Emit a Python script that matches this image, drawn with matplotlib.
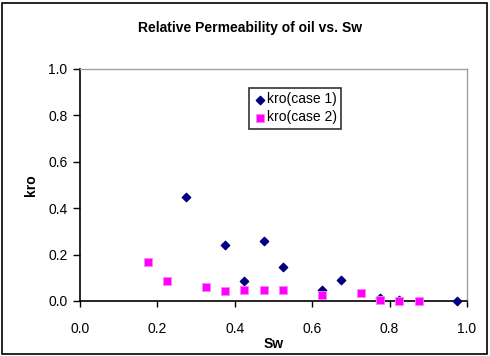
import matplotlib.pyplot as plt
from matplotlib.patches import Rectangle

plt.rcParams["font.family"] = ["Liberation Sans", "DejaVu Sans"]

sw_case1 = [0.275, 0.375, 0.425, 0.475, 0.525, 0.625, 0.675, 0.775, 0.825, 0.975]
kro_case1 = [0.449, 0.240, 0.087, 0.259, 0.145, 0.046, 0.090, 0.012, 0.003, 0.002]

sw_case2 = [0.175, 0.225, 0.325, 0.375, 0.425, 0.475, 0.525, 0.625, 0.725, 0.775, 0.825, 0.875]
kro_case2 = [0.166, 0.088, 0.062, 0.043, 0.049, 0.046, 0.046, 0.026, 0.033, 0.003, 0.002, 0.001]

xticks = [0.0, 0.2, 0.4, 0.6, 0.8, 1.0]
yticks = [0.0, 0.2, 0.4, 0.6, 0.8, 1.0]

fig = plt.figure(figsize=(4.9, 3.56), dpi=100)
W, H = 490, 356
ax = fig.add_axes([80 / W, 1 - 301 / H, 387 / W, 232 / H])

ax.scatter(sw_case1, kro_case1, marker="D", s=18, color="#000080",
           label="kro(case 1)", zorder=3, clip_on=False)
ax.scatter(sw_case2, kro_case2, marker="s", s=28, color="#FF00FF",
           edgecolors="#FF80FF", linewidths=0.6, label="kro(case 2)",
           zorder=3, clip_on=False)

ax.set_xlim(0, 1)
ax.set_ylim(0, 1)
ax.set_xticks(xticks)
ax.set_yticks(yticks)
ax.set_xticklabels([f"{v:.1f}" for v in xticks], fontsize=10)
ax.set_yticklabels([f"{v:.1f}" for v in yticks], fontsize=10)
ax.tick_params(axis="y", direction="out", length=5, width=1, pad=4)
ax.tick_params(axis="x", direction="out", length=4, width=1, pad=11)

for side in ["left", "bottom"]:
    ax.spines[side].set_color("black")
    ax.spines[side].set_linewidth(1.2)
for side in ["top", "right"]:
    ax.spines[side].set_color("#A0A0A0")
    ax.spines[side].set_linewidth(1.0)

ax.set_xlabel("Sw", fontsize=10, fontweight="bold", labelpad=1)
ax.set_ylabel("kro", fontsize=10, fontweight="bold", labelpad=7)
fig.text(250 / W, 1 - 28 / H,
         "Relative Permeability of oil vs. Sw",
         fontsize=10, fontweight="bold", ha="center", va="center")

leg = ax.legend(loc="upper left", bbox_to_anchor=((249 - 80) / 387, (301 - 88) / 232),
                fontsize=10, frameon=True, fancybox=False, edgecolor="black",
                handletextpad=0.0, handlelength=1.0, borderpad=0.3,
                labelspacing=0.3, borderaxespad=0)
leg.get_frame().set_linewidth(1.2)

fig.patches.append(Rectangle((2 / W, 2 / H), 485 / W, 351 / H, transform=fig.transFigure,
                             fill=False, edgecolor="black", linewidth=1.2))

fig.savefig("out.png", dpi=100)
